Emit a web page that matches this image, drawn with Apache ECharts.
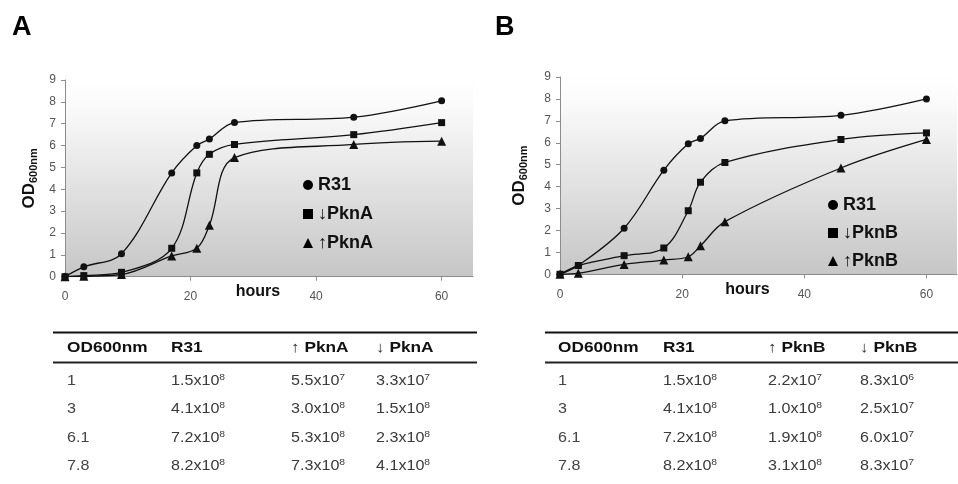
<!DOCTYPE html>
<html>
<head>
<meta charset="utf-8">
<script src="https://cdn.jsdelivr.net/npm/echarts@6/dist/echarts.min.js"></script>
<style>
html,body{margin:0;padding:0;background:#fff;}
#chart{width:958px;height:484px;}
</style>
</head>
<body>
<div id="chart"></div>
<script>
// ---------- data ----------
const hoursA = [0, 3, 9, 17, 21, 23, 27, 46, 60];
const r31A   = [0, 0.45, 1.05, 4.75, 6.0, 6.3, 7.05, 7.3, 8.05];
const downA  = [0, 0.05, 0.2, 1.3, 4.75, 5.6, 6.05, 6.5, 7.05];
const upA    = [0, 0.02, 0.1, 0.95, 1.3, 2.35, 5.45, 6.05, 6.2];

const hoursB = [0, 3, 10.5, 17, 21, 23, 27, 46, 60];
const r31B   = [0, 0.4, 2.1, 4.75, 5.95, 6.2, 7.0, 7.25, 8.0];
const downB  = [0, 0.4, 0.85, 1.2, 2.9, 4.2, 5.1, 6.15, 6.45];
const upB    = [0, 0.05, 0.45, 0.65, 0.8, 1.3, 2.4, 4.85, 6.15];

const xTicks = [0, 20, 40, 60];
const yMin = 0, yMax = 9, yStep = 1;

const namesA = ['R31', '↓PknA', '↑PknA'];
const namesB = ['R31', '↓PknB', '↑PknB'];

const tableHeadA = ['OD600nm', 'R31', '↑ PknA', '↓ PknA'];
const tableHeadB = ['OD600nm', 'R31', '↑ PknB', '↓ PknB'];
const tableOD    = ['1', '3', '6.1', '7.8'];
const tableR31   = ['1.5x10^8', '4.1x10^8', '7.2x10^8', '8.2x10^8'];
const tableUpA   = ['5.5x10^7', '3.0x10^8', '5.3x10^8', '7.3x10^8'];
const tableDownA = ['3.3x10^7', '1.5x10^8', '2.3x10^8', '4.1x10^8'];
const tableUpB   = ['2.2x10^7', '1.0x10^8', '1.9x10^8', '3.1x10^8'];
const tableDownB = ['8.3x10^6', '2.5x10^7', '6.0x10^7', '8.3x10^7'];

// ---------- styling ----------
const FONT = '"Liberation Sans", Arial, Helvetica, sans-serif';
const LINE = '#111';

function pairs(xs, ys) { return xs.map((x, i) => [x, ys[i]]); }

const gridBg = {
  type: 'linear', x: 0, y: 0, x2: 0, y2: 1,
  colorStops: [
    { offset: 0, color: '#ffffff' },
    { offset: 0.12, color: '#fbfbfb' },
    { offset: 1, color: '#c6c6c6' }
  ]
};

function xAxis(idx) {
  return {
    type: 'value', gridIndex: idx, min: 0, max: 65,
    axisLine: { show: true, onZero: false, lineStyle: { color: '#8c8c8c', width: 1 } },
    axisTick: { show: true, length: 4, customValues: xTicks, lineStyle: { color: '#8c8c8c' } },
    axisLabel: { customValues: xTicks, color: '#555', fontSize: 12, fontFamily: FONT, margin: 14 },
    splitLine: { show: false },
    name: 'hours', nameLocation: 'middle', nameGap: 7, nameMoveOverlap: false,
    nameTextStyle: { fontSize: 16, fontWeight: 'bold', color: '#111', fontFamily: FONT, padding: [0, 22, 0, 0] }
  };
}
function yAxis(idx, gap) {
  return {
    type: 'value', gridIndex: idx, min: yMin, max: yMax, interval: yStep,
    axisLine: { show: true, lineStyle: { color: '#8c8c8c', width: 1 } },
    axisTick: { show: true, length: 4, lineStyle: { color: '#8c8c8c' } },
    axisLabel: { color: '#555', fontSize: 12, fontFamily: FONT, margin: 9 },
    splitLine: { show: false },
    name: 'OD{sub|600nm}', nameLocation: 'middle', nameGap: gap, nameRotate: 90, nameMoveOverlap: false,
    nameTextStyle: {
      fontSize: 17, fontWeight: 'bold', color: '#111', fontFamily: FONT, lineHeight: 20,
      rich: { sub: { fontSize: 11, fontWeight: 'bold', color: '#111', fontFamily: FONT, verticalAlign: 'bottom', lineHeight: 12 } }
    }
  };
}
function series(name, idx, xs, ys, symbol, size) {
  return {
    type: 'line', name: name, xAxisIndex: idx, yAxisIndex: idx,
    data: pairs(xs, ys), smooth: 0.35,
    symbol: symbol, symbolSize: size, showSymbol: true,
    lineStyle: { color: LINE, width: 1.3 },
    itemStyle: { color: LINE, borderWidth: 0 },
    emphasis: { disabled: true },
    animation: false
  };
}
function legend(names, left, top, gap) {
  const icons = ['circle', 'rect', 'triangle'];
  return {
    orient: 'vertical', left: left, top: top, itemGap: gap,
    itemWidth: 10, itemHeight: 10, selectedMode: false,
    data: names.map((n, i) => ({ name: n, icon: icons[i], itemStyle: { color: '#000' } })),
    textStyle: { fontSize: 18, fontWeight: 'bold', color: '#111', fontFamily: FONT, lineHeight: 20, padding: [0, 0, 0, 0] }
  };
}

// ---------- tables (graphic) ----------
function sup(s) { return s.replace(/\^(\d+)/, '{s|$1}'); }
const richSup = { s: { fontSize: 9, verticalAlign: 'top', lineHeight: 9, fill: '#3a3a3a', fontFamily: FONT } };

function textEl(x, y, text, opt) {
  return {
    type: 'text', x: x, y: y, scaleX: 1.15, silent: true,
    style: Object.assign({
      text: text, fontFamily: FONT, fontSize: 14, fill: '#3a3a3a',
      verticalAlign: 'middle', align: 'left', lineHeight: 15, rich: richSup
    }, opt || {})
  };
}
function table(head, cols, colX, x1, x2) {
  const els = [];
  els.push({ type: 'line', silent: true, shape: { x1: x1, y1: 332.5, x2: x2, y2: 332.5 }, style: { stroke: '#111', lineWidth: 2 } });
  els.push({ type: 'line', silent: true, shape: { x1: x1, y1: 362.5, x2: x2, y2: 362.5 }, style: { stroke: '#222', lineWidth: 2.2 } });
  head.forEach((h, i) => {
    const t = h.replace(/^([↑↓]) /, '{a|$1} ');
    els.push(textEl(colX[i], 348, t, {
      fontSize: 15, fontWeight: 'bold', fill: '#111',
      rich: { a: { fontSize: 15, fontWeight: 'normal', fill: '#333', fontFamily: FONT } }
    }));
  });
  const rowY = [381, 409, 438, 466];
  cols.forEach((col, c) => {
    col.forEach((v, r) => {
      els.push(textEl(colX[c], rowY[r], sup(v), { fill: c === 0 ? '#444' : '#3a3a3a' }));
    });
  });
  return els;
}

const graphics = [].concat(
  table(tableHeadA, [tableOD, tableR31, tableUpA, tableDownA], [67, 171, 291, 376], 53, 477),
  table(tableHeadB, [tableOD, tableR31, tableUpB, tableDownB], [558, 663, 768, 860], 545, 958),
  [
    { type: 'text', x: 12, y: 14, silent: true, style: { text: 'A', fontSize: 27, fontWeight: 'bold', fill: '#000', fontFamily: FONT, verticalAlign: 'top' } },
    { type: 'text', x: 495, y: 14, silent: true, style: { text: 'B', fontSize: 27, fontWeight: 'bold', fill: '#000', fontFamily: FONT, verticalAlign: 'top' } }
  ]
);

const option = {
  backgroundColor: '#ffffff',
  animation: false,
  grid: [
    { left: 65, top: 80, width: 408, height: 196.7, show: true, backgroundColor: gridBg, borderWidth: 0 },
    { left: 560, top: 77, width: 397, height: 197.3, show: true, backgroundColor: gridBg, borderWidth: 0 }
  ],
  xAxis: [xAxis(0), xAxis(1)],
  yAxis: [yAxis(0, 26), yAxis(1, 31)],
  legend: [legend(namesA, 298, 170, 9), legend(namesB, 823, 190, 8)],
  series: [
    series(namesA[0], 0, hoursA, r31A, 'circle', 7),
    series(namesA[1], 0, hoursA, downA, 'rect', 7),
    series(namesA[2], 0, hoursA, upA, 'triangle', 9),
    series(namesB[0], 1, hoursB, r31B, 'circle', 7),
    series(namesB[1], 1, hoursB, downB, 'rect', 7),
    series(namesB[2], 1, hoursB, upB, 'triangle', 9)
  ],
  graphic: graphics
};

const chart = echarts.init(document.getElementById('chart'), null, { renderer: 'canvas' });
chart.setOption(option);
</script>
</body>
</html>
